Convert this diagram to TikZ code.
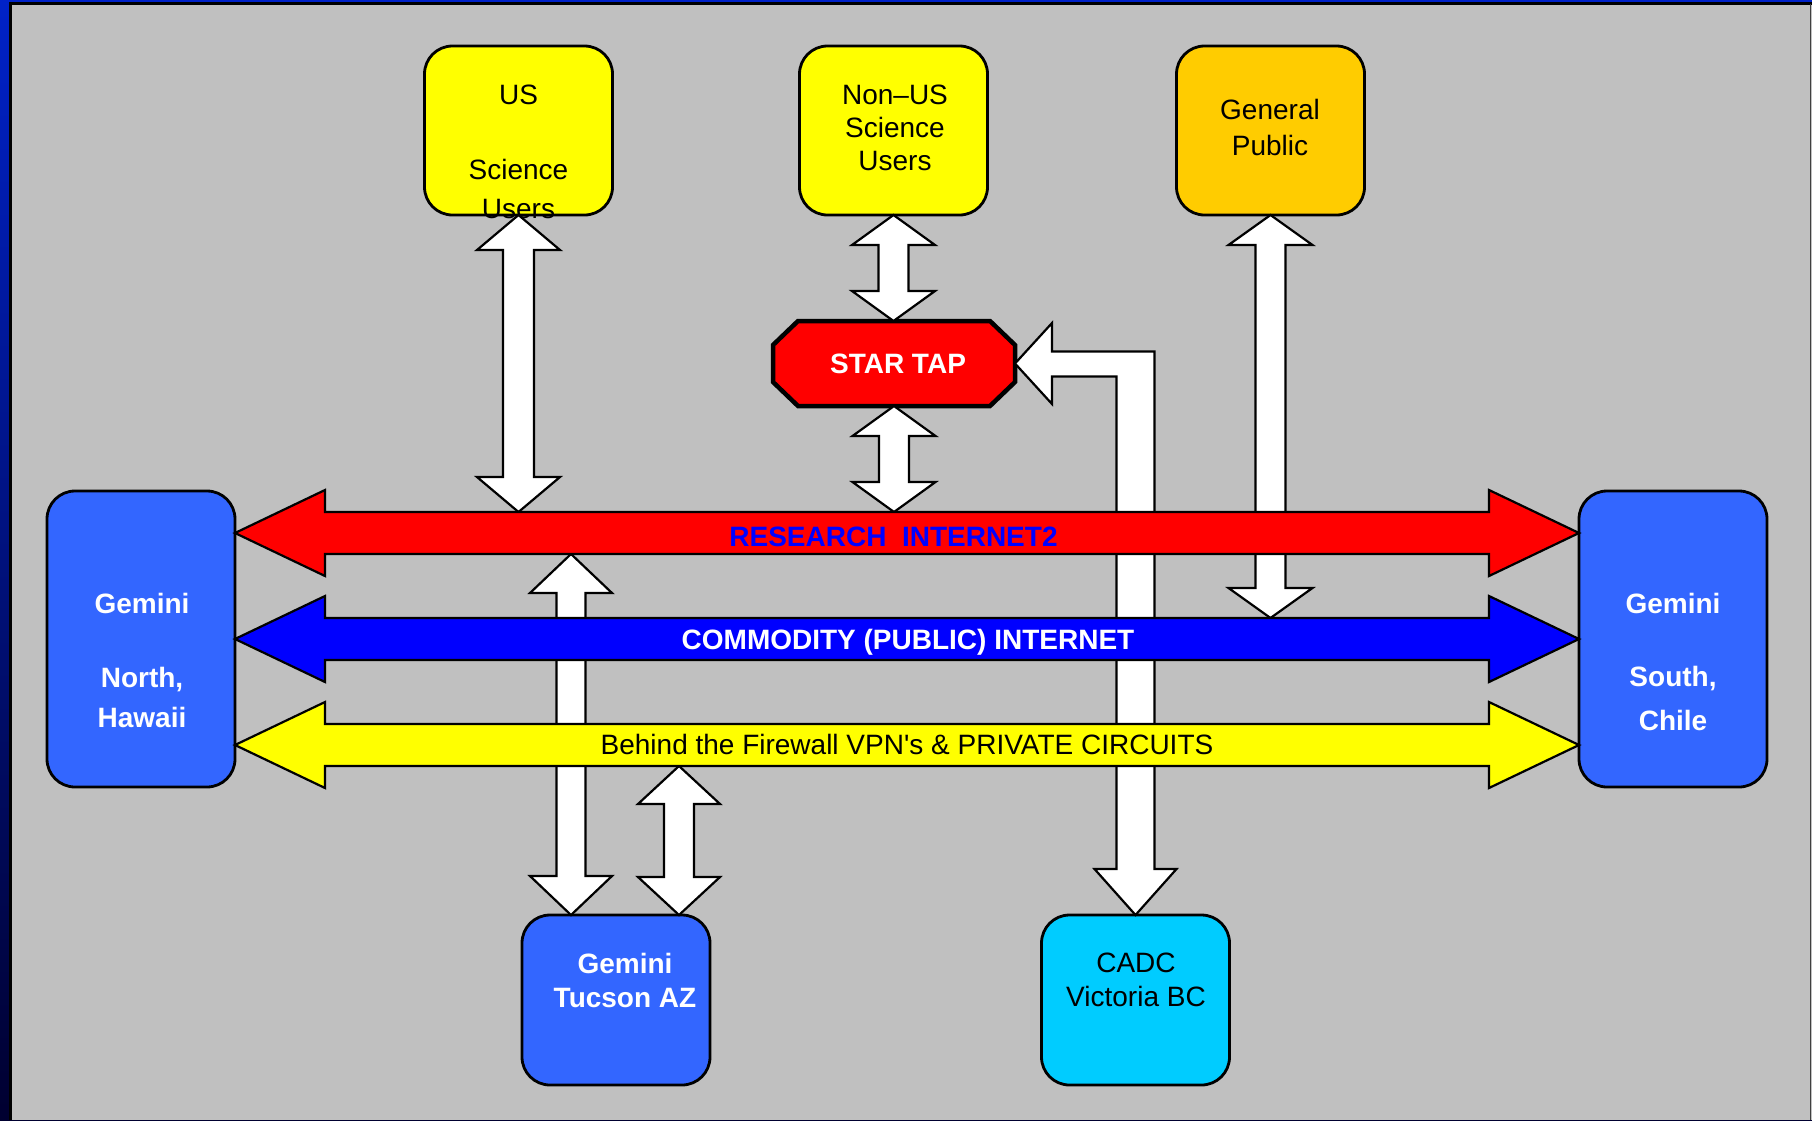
\documentclass[tikz,border=0pt]{standalone}
\usepackage{fontspec}
\setmainfont{Liberation Sans}[Ligatures=TeXOff]
\usetikzlibrary{calc}
\pgfdeclarelayer{back}
\pgfdeclarelayer{bg}
\pgfsetlayers{back,bg,main}

\definecolor{panelgrey}{RGB}{192,192,192}
\definecolor{sciyellow}{RGB}{255,255,0}
\definecolor{pubgold}{RGB}{255,204,0}
\definecolor{gemblue}{RGB}{51,102,255}
\definecolor{cadccyan}{RGB}{0,204,255}
\definecolor{netred}{RGB}{255,0,0}
\definecolor{netblue}{RGB}{0,0,255}
\definecolor{edgeblue}{RGB}{0,34,200}
\definecolor{edgenavy}{RGB}{0,0,48}

\tikzset{
  box/.style={draw=black, line width=2.8pt, rounded corners=28pt, minimum width=188pt,
              outer sep=0pt, inner sep=0pt},
  txt/.style={font=\fontsize{28}{33}\selectfont, align=center, inner sep=0pt},
  btxt/.style={txt, text=white},
  lbl/.style={inner sep=0pt, anchor=base, font=\fontsize{28}{33}\selectfont},
  fat/.style={draw=black, line width=2.2pt, line join=miter, fill=white},
}

% vertical double block arrow: style, top tip, bottom tip, shaft half, head half, head length
\newcommand\vdbl[6]{%
  \path[fat,#1] let \p1=(#2), \p2=(#3) in
    (\x1,\y1) -- (\x1+#5,\y1-#6) -- (\x1+#4,\y1-#6) -- (\x1+#4,\y2+#6)
    -- (\x1+#5,\y2+#6) -- (\x1,\y2) -- (\x1-#5,\y2+#6) -- (\x1-#4,\y2+#6)
    -- (\x1-#4,\y1-#6) -- (\x1-#5,\y1-#6) -- cycle;}
% horizontal double block arrow: style, left tip, right tip
\newcommand\hdbl[3]{%
  \path[fat,#1] let \p1=(#2), \p2=(#3) in
    (\x1,\y1) -- (\x1+90pt,\y1+43pt) -- (\x1+90pt,\y1+21pt) -- (\x2-90pt,\y1+21pt)
    -- (\x2-90pt,\y1+43pt) -- (\x2,\y1) -- (\x2-90pt,\y1-43pt) -- (\x2-90pt,\y1-21pt)
    -- (\x1+90pt,\y1-21pt) -- (\x1+90pt,\y1-43pt) -- cycle;}

\begin{document}
\begin{tikzpicture}[x=1pt,y=-1pt]
\useasboundingbox (0,0) rectangle (1812,1120);

% frame and panel
\begin{pgfonlayer}{back}
  \shade[top color=edgeblue, bottom color=edgenavy] (0,0) rectangle (1812,1120);
  \fill[panelgrey] (9,2.5) rectangle (1812,1120);
  \draw[black, line width=3pt] (10,1120) -- (10,3.5) -- (1812,3.5);
  \draw[black!75, line width=1.2pt] (1810.6,3.5) -- (1810.6,1120);
\end{pgfonlayer}

% boxes
\node[box, fill=sciyellow, minimum height=169pt] (us)   at (518.5,130.5) {};
\node[box, fill=sciyellow, minimum height=169pt] (nus)  at (893.5,130.5) {};
\node[box, fill=pubgold,   minimum height=169pt] (gp)   at (1270.5,130.5) {};
\node[box, fill=gemblue,   minimum height=296pt] (gn)   at (141,639) {};
\node[box, fill=gemblue,   minimum height=296pt] (gs)   at (1673,639) {};
\node[box, fill=gemblue,   minimum height=170pt] (tuc)  at (616,1000) {};
\node[box, fill=cadccyan,  minimum height=170pt] (cadc) at (1135.5,1000) {};

% STAR TAP
\node[inner sep=0pt, outer sep=0pt, minimum width=242pt, minimum height=85pt,
      text=white, font=\fontsize{28}{33}\selectfont\bfseries] (st) at (894,363.5) {\hspace{8pt}STAR TAP};
\begin{pgfonlayer}{bg}
  \draw[line width=4.5pt, fill=netred, line join=miter]
    ([xshift=25pt]st.north west) -- ([xshift=-25pt]st.north east)
    -- ([yshift=-24pt]st.north east) -- ([yshift=24pt]st.south east)
    -- ([xshift=-25pt]st.south east) -- ([xshift=25pt]st.south west)
    -- ([yshift=24pt]st.south west) -- ([yshift=-24pt]st.north west) -- cycle;
\end{pgfonlayer}

% box texts
\node[txt, font=\fontsize{28}{39}\selectfont] (usT) at (518.5,152) {US\\[36pt]Science\\Users};
\node[txt, font=\fontsize{28}{33}\selectfont] (nusT) at (895,128) {Non–US\\Science\\Users};
\node[txt, font=\fontsize{28}{36}\selectfont] (gpT) at (1270,127) {General\\Public};
\node[btxt, font=\fontsize{28}{39.5}\selectfont\bfseries] (gnT) at (142,660) {Gemini\\[35pt]North,\\Hawaii};
\node[btxt, font=\fontsize{28}{44}\selectfont\bfseries] (gsT) at (1673,661.5) {Gemini\\[29pt]South,\\Chile};
\node[btxt, font=\fontsize{28}{34}\selectfont\bfseries] (tucT) at (625,980.5) {Gemini\\Tucson AZ};
\node[txt, font=\fontsize{28}{34.5}\selectfont] (cadcT) at (1136,980) {CADC\\Victoria BC};

% reference points on the network arrows
\coordinate (redN)  at ([yshift=127pt]gn.east);
\coordinate (redS)  at ([yshift=85pt]gn.east);
\coordinate (blueN) at ([yshift=21pt]gn.east);
\coordinate (yelS)  at ([yshift=-127pt]gn.east);
\coordinate (tucL)  at ([xshift=-45pt]tuc.north);
\coordinate (tucR)  at ([xshift=63pt]tuc.north);

% vertical connectors (behind the network arrows)
\vdbl{}{us.south}{us.south |- redN}{15.5pt}{41.5pt}{35pt}
\vdbl{}{nus.south}{st.north}{15pt}{41.5pt}{30pt}
\vdbl{}{st.south}{st.south |- redN}{15pt}{41.5pt}{30pt}
\vdbl{}{gp.south}{gp.south |- blueN}{15pt}{42pt}{30pt}
\vdbl{}{tucL |- redS}{tucL}{14.5pt}{41pt}{39pt}
\vdbl{}{tucR |- yelS}{tucR}{15pt}{41pt}{38pt}

% bent arrow STAR TAP <-> CADC
\path[fat] let \p1=(st.east), \p2=(cadc.north) in
  (\x1,\y1) -- (\x1+37pt,\y1+40.5pt) -- (\x1+37pt,\y1+12pt) -- (\x2+19pt,\y1+12pt)
  -- (\x2+19pt,\y2+46pt) -- (\x2+41pt,\y2+46pt) -- (\x2,\y2) -- (\x2-41pt,\y2+46pt)
  -- (\x2-19pt,\y2+46pt) -- (\x2-19pt,\y1-13pt) -- (\x1+37pt,\y1-13pt)
  -- (\x1+37pt,\y1-40.5pt) -- cycle;

% network arrows
\hdbl{fill=netred}{[yshift=106pt]gn.east}{[yshift=106pt]gs.west}
\hdbl{fill=netblue}{gn.east}{gs.west}
\hdbl{fill=sciyellow}{[yshift=-106pt]gn.east}{[yshift=-106pt]gs.west}

\node[lbl, text=netblue, font=\fontsize{28}{33}\selectfont\bfseries] (redT) at (893.5,546.5) {RESEARCH\ \ INTERNET2};
\node[lbl, text=white, font=\fontsize{28}{33}\selectfont\bfseries] (blueT) at (908,649) {COMMODITY (PUBLIC) INTERNET};
\node[lbl, text=black] (yelT) at (907,754.5) {Behind the Firewall VPN's \& PRIVATE CIRCUITS};
\end{tikzpicture}
\end{document}
